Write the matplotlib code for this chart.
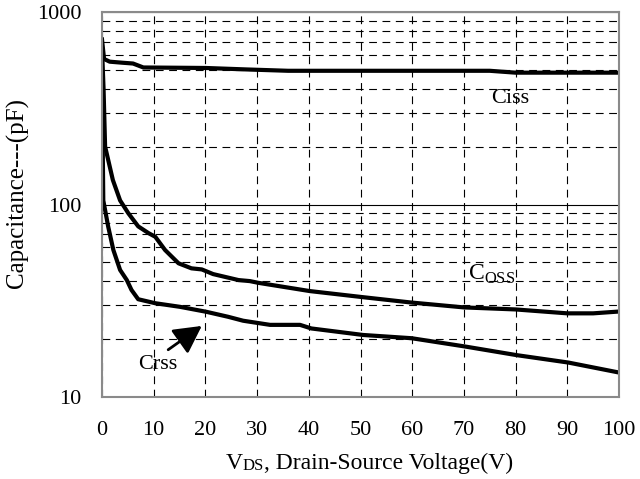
import matplotlib
matplotlib.use('Agg')
import matplotlib.pyplot as plt
from matplotlib.ticker import NullFormatter, LogLocator

plt.rcParams['font.family'] = ['Liberation Serif', 'DejaVu Serif']

# curves
v_ciss = [0, 0.4, 1.5, 4, 6, 8, 20, 28, 36, 75, 80, 100]
c_ciss = [720, 570, 552, 545, 540, 515, 512, 503, 495, 495, 484, 484]

v_coss = [0, 0.3, 0.6, 2.1, 3.5, 5.1, 7.0, 9.0, 10.3, 12.2, 14.8, 17.3, 19.3, 21.5,
          26.4, 28.6, 30.2, 40.2, 50.5, 59.6, 70, 80, 90, 95, 100]
c_coss = [650, 400, 200, 134, 105, 90, 77, 71, 68, 58, 49.5, 46.6, 46, 43.5,
          40.5, 40, 39.2, 35.5, 33, 31, 29.2, 28.5, 27.2, 27.2, 27.8]

v_crss = [0, 0.25, 1.2, 2.2, 3.5, 4.8, 5.7, 7.0, 10.3, 15.1, 20.2, 24.4, 27.3,
          32.5, 38.3, 40.5, 50.5, 59.9, 70.2, 80.2, 90.2, 100]
c_crss = [450, 105, 76.7, 58, 45.7, 40.5, 36, 32.2, 30.7, 29.4, 27.7, 26.1, 24.9,
          23.7, 23.7, 22.7, 21, 20.2, 18.3, 16.5, 15.1, 13.4]

x_ticks = list(range(0, 101, 10))
y_ticks = [10, 100, 1000]
y_ticklabels = ['10', '100', '1000']

fs = 16

fig = plt.figure(figsize=(6.4, 4.79), dpi=100)
ax = fig.add_axes([102/640, 1 - 397/479, 517/640, 385/479])

ax.plot(v_ciss, c_ciss, color='black', lw=3)
ax.plot(v_coss, c_coss, color='black', lw=3)
ax.plot(v_crss, c_crss, color='black', lw=3)

ax.set_yscale('log')
ax.set_xlim(0, 100)
ax.set_ylim(10, 1000)
ax.set_xticks(x_ticks)
ax.set_yticks(y_ticks)
ax.set_yticklabels(y_ticklabels)
ax.yaxis.set_minor_locator(LogLocator(base=10, subs=range(2, 10)))
ax.yaxis.set_minor_formatter(NullFormatter())
ax.tick_params(which='both', length=0, labelsize=fs)
ax.tick_params(axis='y', pad=15)
ax.tick_params(axis='x', pad=17)

# grid: dashed except the solid decade line
ax.grid(axis='x', which='major', color='black', lw=0.8, ls=(0, (7, 5)))
ax.grid(axis='y', which='minor', color='black', lw=0.8, ls=(0, (7, 5)))
ax.grid(axis='y', which='major', color='black', lw=0.8, ls='-')
ax.set_axisbelow(True)

for s in ax.spines.values():
    s.set_color('#8a8a8a')
    s.set_linewidth(1.5)

# curve labels
ax.text(78.9, 356, 'Ciss', fontsize=fs, ha='center', va='center')
ax.text(75.4, 43.5, r'C$_{\mathregular{OSS}}$', fontsize=fs + 1, ha='center', va='center')
ax.text(10.7, 14.7, 'Crss', fontsize=fs, ha='center', va='center')
ax.annotate('', xy=(19.3, 23.4), xytext=(12.8, 17.6),
            arrowprops=dict(arrowstyle='-|>,head_length=0.6,head_width=0.32',
                            color='black', lw=2, mutation_scale=28,
                            shrinkA=0, shrinkB=0))

ax.set_ylabel('Capacitance---(pF)', fontsize=fs + 2)
ax.yaxis.set_label_coords(-0.142, 0.53)

# x label with the small "DS"
t1 = fig.text(226/640, 1 - 469/479, 'V', fontsize=fs + 1, ha='left', va='baseline')
t2 = plt.annotate('DS', xy=(1, 0), xycoords=t1, fontsize=12, ha='left', va='bottom')
plt.annotate(', Drain-Source Voltage(V)', xy=(1, 0), xycoords=t2, fontsize=fs + 1,
             ha='left', va='bottom')

fig.savefig('out.png', dpi=100)
